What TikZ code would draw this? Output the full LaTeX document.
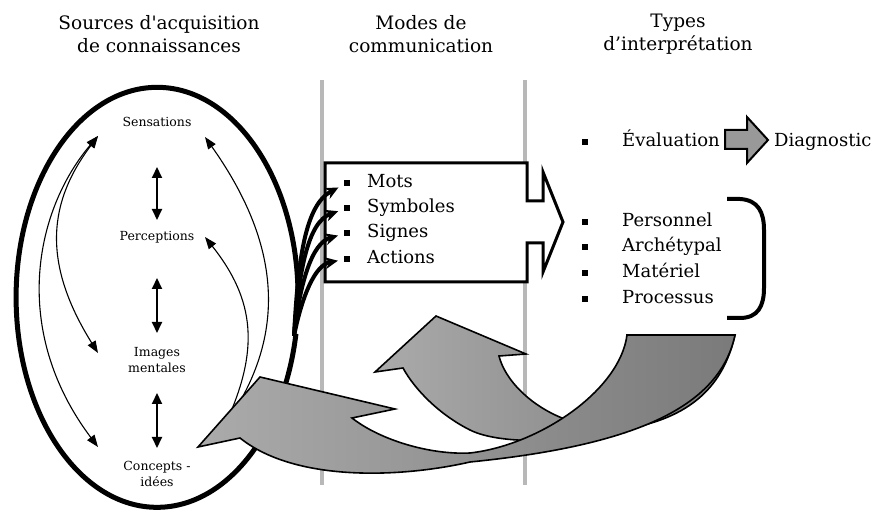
\documentclass[tikz,border=0pt]{standalone}
\usepackage{fontspec}
\setmainfont{DejaVu Serif}
\usetikzlibrary{arrows.meta}

\tikzset{
  titre/.style={align=center,font=\fontsize{18.5}{23.5}\selectfont},
  etiq/.style={align=center,font=\fontsize{12.5}{16}\selectfont},
  elt/.style={anchor=west,inner sep=0pt,text height=13.5pt,text depth=4pt,font=\fontsize{18}{22}\selectfont},
  puce/.style={fill=black,minimum size=6pt,inner sep=0pt},
  separ/.style={line width=4pt,draw=black!28},
  ovale/.style={line width=5pt},
  vfleche/.style={line width=2pt,{Triangle[length=11pt,width=10pt]}-{Triangle[length=11pt,width=10pt]}},
  fin/.style={line width=1.1pt,-{Triangle[length=12pt,width=9pt]}},
  fin2/.style={line width=1.1pt,{Triangle[length=12pt,width=9pt]}-{Triangle[length=12pt,width=9pt]}},
  canal/.style={line width=4pt,shorten >=6pt,-{Stealth[length=13pt,width=12pt]}},
  boite/.style={line width=3pt,fill=white,line join=miter},
  ruban/.style={line width=1.6pt,draw=black,line join=miter,left color=black!33,right color=black!52},
}

\begin{document}
\begin{tikzpicture}[x=1pt,y=-1pt]
  \useasboundingbox (0,0) rectangle (876,510);

  % titres des colonnes
  \node[titre] (t1) at (159,34) {Sources d\textquotesingle acquisition\\de connaissances};
  \node[titre] (t2) at (421,34) {Modes de\\communication};
  \node[titre] (t3) at (678,34) {Types\\d’interprétation};

  % separateurs
  \draw[separ] (322,80) -- (322,485);
  \draw[separ] (525,80) -- (525,485);

  % ovale des sources
  \draw[ovale] (298,290) arc[start angle=-2,end angle=-350,x radius=141,y radius=210];

  \node[etiq] (sens) at (157,122) {Sensations};
  \node[etiq] (perc) at (157,237) {Perceptions};
  \node[etiq] (imag) at (157,360) {Images\\mentales};
  \node[etiq] (conc) at (157,474) {Concepts -\\idées};

  \draw[vfleche,shorten <=45pt,shorten >=17pt] (sens.center) -- (perc.center);
  \draw[vfleche,shorten <=41pt,shorten >=27pt] (perc.center) -- (imag.center);
  \draw[vfleche,shorten <=33pt,shorten >=26pt] (imag.center) -- (conc.center);

  \coordinate (sG) at (98,136);
  \coordinate (iG) at (98,353);
  \coordinate (cG) at (98,447);
  \coordinate (sD) at (205,137);
  \coordinate (pD) at (205,237);
  \coordinate (cD) at (225,425);
  \draw[fin2] (sG) .. controls (50,200) and (40,260) .. (iG);
  \draw[fin2] (sG) .. controls (35,210) and (10,330) .. (cG);
  \draw[fin] (cD) .. controls (285,340) and (285,250) .. (sD);
  \draw[fin] (cD) .. controls (260,350) and (255,300) .. (pD);

  % modes de communication
  \draw[boite] (325,163) -- (527,163) -- (527,201) -- (543,201) -- (543,172)
    -- (563,222) -- (543,272) -- (543,243) -- (527,243) -- (527,282)
    -- (325,282) -- cycle;

  \node[puce] (pmots) at (347,183) {};
  \node[puce] (psymb) at (347,208) {};
  \node[puce] (psign) at (347,233) {};
  \node[puce] (pact) at (347,259) {};
  \node[elt] (mots) at (367,183) {Mots};
  \node[elt] (symb) at (367,208) {Symboles};
  \node[elt] (sign) at (367,233) {Signes};
  \node[elt] (act) at (367,259) {Actions};

  \coordinate (src) at (294,336);
  \draw[canal] (src) .. controls (298,260) and (305,205) .. (pmots);
  \draw[canal] (src) .. controls (299,270) and (308,222) .. (psymb);
  \draw[canal] (src) .. controls (300,282) and (312,243) .. (psign);
  \draw[canal] (src) .. controls (302,296) and (315,265) .. (pact);

  % retours d'interpretation
  \draw[ruban] (436,316) -- (526,354) -- (499,356)
    .. controls (505,380) and (530,405) .. (562,418)
    .. controls (600,432) and (627,390) .. (627,335) -- (735,335)
    .. controls (722,392) and (684,420) .. (620,430)
    .. controls (570,443) and (500,445) .. (470,430)
    .. controls (440,415) and (415,390) .. (403,368)
    -- (375,372) -- cycle;
  \draw[ruban] (198,447) -- (260,377) -- (395,409) -- (352,418)
    .. controls (380,440) and (430,455) .. (470,453)
    .. controls (540,445) and (620,390) .. (627,335) -- (735,335)
    .. controls (720,405) and (640,445) .. (470,462)
    .. controls (400,478) and (295,482) .. (240,438) -- cycle;

  % types d'interpretation
  \node[puce] (peval) at (585,142) {};
  \node[elt] (eval) at (622,142) {Évaluation};
  \node[elt] (diag) at (774,142) {Diagnostic};
  \draw[line width=2pt,fill=black!40,line join=miter] (725,130) -- (747,130) -- (747,117)
    -- (768,140) -- (747,163) -- (747,149) -- (725,149) -- cycle;

  \node[puce] (ppers) at (585,222) {};
  \node[puce] (parch) at (585,247) {};
  \node[puce] (pmat) at (585,273) {};
  \node[puce] (pproc) at (585,299) {};
  \node[elt] (pers) at (622,222) {Personnel};
  \node[elt] (arch) at (622,247) {Archétypal};
  \node[elt] (mat) at (622,273) {Matériel};
  \node[elt] (proc) at (622,299) {Processus};

  \draw[line width=4pt] (727,199) -- (740,199) .. controls (758,200) and (764,212) .. (764,230)
    -- (764,288) .. controls (764,306) and (758,318) .. (740,318) -- (727,318);
\end{tikzpicture}
\end{document}
